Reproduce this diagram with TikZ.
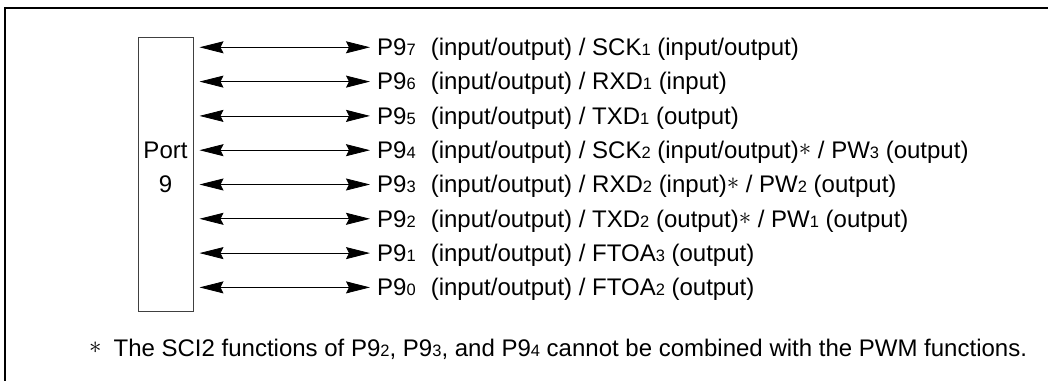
\documentclass[tikz,border=0pt]{standalone}
\usepackage{fontspec}
\setmainfont{Liberation Sans}
\usetikzlibrary{arrows.meta}
\newcommand\smsub[1]{{\fontsize{16.5pt}{18pt}\selectfont #1}}
\newcommand\myast{\raisebox{0.12em}{$\ast$}}
\begin{document}
\begin{tikzpicture}[x=1pt,y=-1pt,
  frame/.style={line width=2pt,black},
  portbox/.style={draw=black!75,line width=1pt,minimum width=55pt,minimum height=274pt,inner sep=0pt},
  sig/.style={anchor=base west,inner sep=0pt,font=\fontsize{24pt}{28pt}\selectfont},
  biarrow/.style={draw=black,line width=0.8pt,{Stealth[length=24pt,width=12pt,inset=3pt]}-{Stealth[length=24pt,width=12pt,inset=3pt]}}
]
\useasboundingbox (0,0) rectangle (1048,380);
\draw[frame] (5,381) -- (5,8) -- (1049,8);
\node[portbox] (port) at (165.5,174) {};
\node[sig,anchor=base] (portl1) at (165.5,158.3) {Port};
\node[sig,anchor=base] (portl2) at (165.5,192.6) {9};
\node[sig] (t7) at (377,55.5) {P9\smsub{7}\hspace{0.35em} (input/output) / SCK\smsub{1} (input/output)};
\node[sig] (t6) at (377,89.8) {P9\smsub{6}\hspace{0.35em} (input/output) / RXD\smsub{1} (input)};
\node[sig] (t5) at (377,124.1) {P9\smsub{5}\hspace{0.35em} (input/output) / TXD\smsub{1} (output)};
\node[sig] (t4) at (377,158.4) {P9\smsub{4}\hspace{0.35em} (input/output) / SCK\smsub{2} (input/output)\myast{} / PW\smsub{3} (output)};
\node[sig] (t3) at (377,192.7) {P9\smsub{3}\hspace{0.35em} (input/output) / RXD\smsub{2} (input)\myast{} / PW\smsub{2} (output)};
\node[sig] (t2) at (377,227) {P9\smsub{2}\hspace{0.35em} (input/output) / TXD\smsub{2} (output)\myast{} / PW\smsub{1} (output)};
\node[sig] (t1) at (377,261.3) {P9\smsub{1}\hspace{0.35em} (input/output) / FTOA\smsub{3} (output)};
\node[sig] (t0) at (377,295.6) {P9\smsub{0}\hspace{0.35em} (input/output) / FTOA\smsub{2} (output)};
\foreach \n in {t7,t6,t5,t4,t3,t2,t1,t0}{
  \draw[biarrow] ([xshift=6pt,yshift=8.2pt]port.east |- \n.base west) -- ([xshift=-7pt,yshift=8.2pt]\n.base west);
}
\node[sig] (note) at (89,356) {\myast\hspace{0.5em}The SCI2 functions of P9\smsub{2}, P9\smsub{3}, and P9\smsub{4} cannot be combined with the PWM functions.};
\end{tikzpicture}
\end{document}
